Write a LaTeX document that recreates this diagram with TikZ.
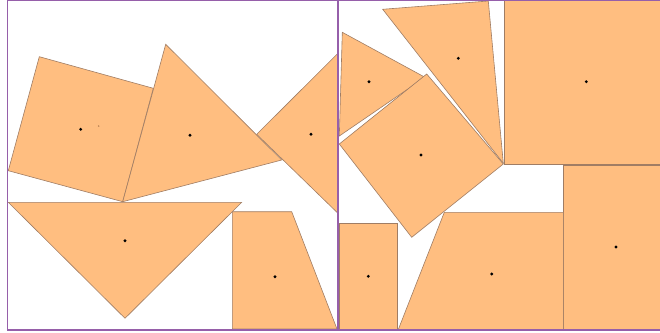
\documentclass[tikz,border=0pt]{standalone}
\begin{document}
\begin{tikzpicture}[x=1pt,y=-1pt,
  piece/.style={fill=pfill,draw=pedge,line width=0.6pt,line join=miter},
  framebox/.style={draw=fcol,line width=1.3pt},
  ctr/.style={fill=black},
]
\definecolor{pfill}{RGB}{255,190,128}
\definecolor{pedge}{RGB}{160,125,100}
\definecolor{fcol}{RGB}{150,95,170}
\useasboundingbox (0,0) rectangle (660,332);
\clip (0,0) rectangle (660,332);
% left panel
\draw[piece] (39.3,56.7) -- (153.3,88.3) -- (122.7,201.7) -- (8.3,170.7) -- cycle;
\draw[piece] (165.7,44.3) -- (281.7,160) -- (122.7,201.7) -- cycle;
\draw[piece] (256.7,134.3) -- (338,53.3) -- (338,213.3) -- cycle;
\draw[piece] (8.3,202.3) -- (241.7,202.3) -- (125,318.3) -- cycle;
\draw[piece] (232.3,211.7) -- (291.7,211.7) -- (337,329) -- (232.3,329) -- cycle;
% right panel
\draw[piece] (342.3,32.3) -- (425,77.3) -- (339.3,136) -- cycle;
\draw[piece] (382.7,9.3) -- (488.3,1) -- (503.3,163.3) -- cycle;
\draw[piece] (426.7,74) -- (503.3,164) -- (411.7,237.3) -- (339.3,144) -- cycle;
\draw[piece] (504.3,0) rectangle (668.3,164);
\draw[piece] (563.3,165) rectangle (668.7,329.5);
\draw[piece] (444.3,212.3) -- (563.3,212.3) -- (563.3,329.5) -- (398.3,329.5) -- cycle;
\draw[piece] (339.3,223.3) rectangle (397.7,329.5);
% frames
\draw[framebox] (7.5,0) rectangle (338,330);
\draw[framebox] (338,0) rectangle (662,330);
% centre dots
\fill[ctr] (80.7,129.3) circle (1.6);
\fill[pedge!80!orange] (98.7,126) circle (0.8);
\fill[ctr] (190,135.3) circle (1.6);
\fill[ctr] (311,134.3) circle (1.6);
\fill[ctr] (125,240.7) circle (1.6);
\fill[ctr] (275,276.7) circle (1.6);
\fill[ctr] (369,81.7) circle (1.6);
\fill[ctr] (458.3,58.3) circle (1.6);
\fill[ctr] (421,155) circle (1.6);
\fill[ctr] (586.3,81.7) circle (1.6);
\fill[ctr] (616,247) circle (1.6);
\fill[ctr] (491.7,274) circle (1.6);
\fill[ctr] (368.3,276.3) circle (1.6);
\end{tikzpicture}
\end{document}
